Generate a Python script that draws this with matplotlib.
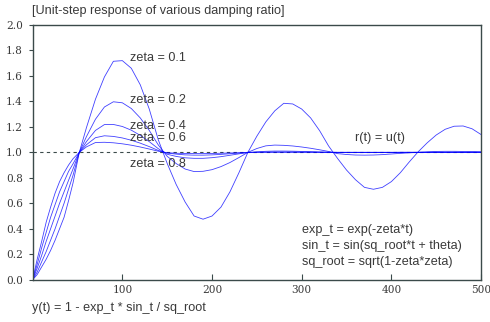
import matplotlib
matplotlib.use("Agg")
import matplotlib.pyplot as plt

# sample positions
time = [0, 5, 10, 15, 20, 25, 30, 35, 40, 45, 52,
        60, 70, 80, 90, 100, 110, 120, 130, 140,
        150, 160, 170, 180, 190, 200, 210, 220, 230, 240,
        250, 260, 270, 280, 290, 300, 310, 320, 330,
        340, 350, 360, 370, 380, 390, 400, 410, 420,
        430, 440, 450, 460, 470, 480, 490, 500]

zeta_01 = [0, 0.04, 0.10, 0.16, 0.23, 0.31, 0.40, 0.49, 0.62, 0.76, 1.0,
           1.195, 1.417, 1.592, 1.715, 1.72, 1.66, 1.53, 1.34, 1.10,
           0.913, 0.748, 0.61, 0.50, 0.475, 0.50, 0.57, 0.69, 0.84, 1.0,
           1.127, 1.239, 1.326, 1.385, 1.38, 1.34, 1.27, 1.17, 1.05,
           0.952, 0.861, 0.785, 0.725, 0.71, 0.725, 0.77, 0.84, 0.925,
           1.005, 1.075, 1.136, 1.181, 1.205, 1.207, 1.185, 1.14]

zeta_02 = [0, 0.06, 0.14, 0.22, 0.31, 0.40, 0.50, 0.60, 0.71, 0.82, 1.0,
           1.124, 1.26, 1.356, 1.397, 1.389, 1.344, 1.27, 1.172, 1.059,
           0.969, 0.912, 0.869, 0.849, 0.851, 0.864, 0.888, 0.92, 0.959, 1.0,
           1.03, 1.051, 1.057, 1.055, 1.05, 1.042, 1.032, 1.02, 1.007,
           0.99, 0.983, 0.979, 0.978, 0.979, 0.982, 0.987, 0.992, 0.996,
           1.0, 1.004, 1.007, 1.008, 1.008, 1.007, 1.006, 1.005]

zeta_04 = [0, 0.09, 0.19, 0.30, 0.40, 0.50, 0.60, 0.69, 0.78, 0.87, 1.0,
           1.085, 1.172, 1.218, 1.219, 1.203, 1.174, 1.133, 1.084, 1.029,
           0.985, 0.968, 0.957, 0.953, 0.953, 0.958, 0.966, 0.977, 0.988, 0.998,
           1.004, 1.008, 1.01, 1.01, 1.009, 1.007, 1.005, 1.003, 1.001,
           0.999, 0.998, 0.998, 0.998, 0.998, 0.999, 0.999, 1.0, 1.0,
           1.0, 1.0, 1.0, 1.0, 1.0, 1.0, 1.0, 1.0]

zeta_06 = [0, 0.12, 0.25, 0.37, 0.49, 0.59, 0.69, 0.77, 0.85, 0.91, 1.0,
           1.06, 1.115, 1.13, 1.125, 1.113, 1.095, 1.072, 1.045, 1.015,
           0.994, 0.986, 0.98, 0.978, 0.978, 0.98, 0.984, 0.989, 0.994, 0.999,
           1.001, 1.002, 1.003, 1.003, 1.003, 1.002, 1.002, 1.001, 1.0,
           1.0, 1.0, 1.0, 1.0, 1.0, 1.0, 1.0, 1.0, 1.0,
           1.0, 1.0, 1.0, 1.0, 1.0, 1.0, 1.0, 1.0]

zeta_08 = [0, 0.16, 0.30, 0.45, 0.57, 0.68, 0.77, 0.84, 0.90, 0.95, 1.0,
           1.043, 1.077, 1.079, 1.075, 1.067, 1.056, 1.042, 1.026, 1.009,
           0.997, 0.993, 0.991, 0.99, 0.99, 0.991, 0.993, 0.995, 0.997, 1.0,
           1.0, 1.0, 1.0, 1.0, 1.0, 1.0, 1.0, 1.0, 1.0,
           1.0, 1.0, 1.0, 1.0, 1.0, 1.0, 1.0, 1.0, 1.0,
           1.0, 1.0, 1.0, 1.0, 1.0, 1.0, 1.0, 1.0]

labels = ["zeta = 0.1", "zeta = 0.2", "zeta = 0.4", "zeta = 0.6", "zeta = 0.8"]
label_y = [1.74, 1.41, 1.21, 1.115, 0.91]

formula_lines = ["exp_t = exp(-zeta*t)",
                 "sin_t = sin(sq_root*t + theta)",
                 "sq_root = sqrt(1-zeta*zeta)"]
formula_y = [0.39, 0.267, 0.137]

x_ticks = [100, 200, 300, 400, 500]
y_ticks = [0.0, 0.2, 0.4, 0.6, 0.8, 1.0, 1.2, 1.4, 1.6, 1.8, 2.0]


def main():
    text_font = "Liberation Sans"
    frame = "#3b4a4a"
    ink = "#3a3a3a"

    fig = plt.figure(figsize=(4.9, 3.22), dpi=100)
    ax = fig.add_axes([0.0667, 0.1314, 0.915, 0.791])

    ax.axhline(1.0, color=frame, lw=0.8, linestyle=(0, (3, 3)))

    for series in [zeta_01, zeta_02, zeta_04, zeta_06, zeta_08]:
        ax.plot(time, series, color="#0000ff", lw=0.6, alpha=0.75)

    for name, y in zip(labels, label_y):
        ax.text(108.5, y, name, fontsize=9.1, family=text_font,
                color=ink, va="center", ha="left")

    ax.text(359, 1.11, "r(t) = u(t)", fontsize=9.1, family=text_font,
            color=ink, va="center", ha="left")

    for line, y in zip(formula_lines, formula_y):
        ax.text(300, y, line, fontsize=9.1, family=text_font,
                color=ink, va="center", ha="left")

    ax.set_xlim(0, 500)
    ax.set_ylim(0, 2.0)
    ax.set_xticks(x_ticks)
    ax.set_yticks(y_ticks)
    ax.set_yticklabels(["%.1f" % v for v in y_ticks])

    for side in ax.spines.values():
        side.set_color(frame)
        side.set_linewidth(1.0)

    ax.tick_params(axis="x", direction="in", length=4, color=frame,
                   labelcolor=ink, labelsize=7.6, pad=4)
    ax.tick_params(axis="y", direction="out", length=3, color=frame,
                   labelcolor=ink, labelsize=7.6, pad=4)
    for lab in ax.get_xticklabels() + ax.get_yticklabels():
        lab.set_family("DejaVu Serif")

    fig.text(0.0653, 1 - 11 / 322, "[Unit-step response of various damping ratio]",
             fontsize=9.1, family=text_font, color=ink, va="center", ha="left")
    fig.text(0.0653, 1 - 308 / 322, "y(t) = 1 - exp_t * sin_t / sq_root",
             fontsize=9.1, family=text_font, color=ink, va="center", ha="left")

    fig.savefig("out.png", dpi=100)


if __name__ == "__main__":
    main()
